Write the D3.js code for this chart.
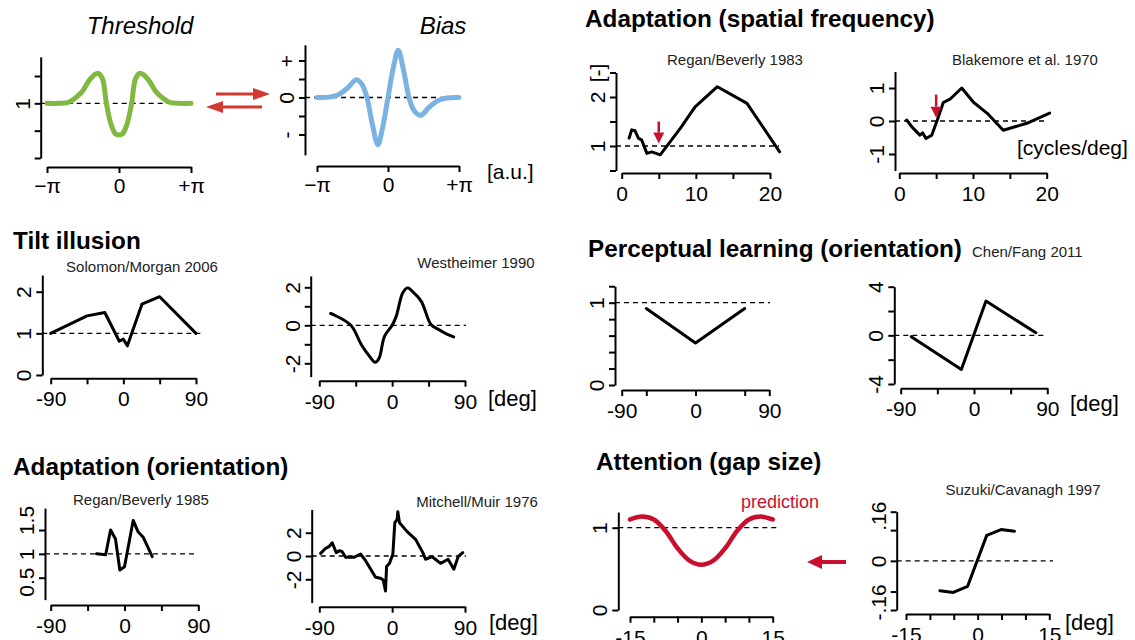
<!DOCTYPE html>
<html>
<head>
<meta charset="utf-8">
<script src="https://cdn.jsdelivr.net/npm/d3@7"></script>
<style>
  body { margin: 0; background: #fff; }
  svg { display: block; }
  text { font-family: "Liberation Sans", Arial, Helvetica, sans-serif; }
</style>
</head>
<body>
<svg id="fig" width="1135" height="640"></svg>
<script>
const FONT = '"Liberation Sans", Arial, Helvetica, sans-serif';
const PI = Math.PI;

// ---- data ----
const thresholdCurve = [[-3.14,1],[-2.6,1],[-2.2,1.02],[-1.9,1.1],[-1.6,1.22],[-1.3,1.42],[-1.05,1.53],[-0.9,1.55],
  [-0.72,1.45],[-0.55,1.0],[-0.35,0.62],[-0.15,0.44],[0,0.42],[0.15,0.44],[0.35,0.62],[0.55,1.0],[0.72,1.45],
  [0.9,1.55],[1.05,1.53],[1.3,1.42],[1.6,1.22],[1.9,1.1],[2.2,1.02],[2.6,1],[3.14,1]];
const biasCurve = [[-3.14,0],[-2.6,0.02],[-2.2,0.15],[-1.8,0.5],[-1.4,0.96],[-1.15,0.7],[-0.93,0],[-0.7,-1.4],
  [-0.45,-2.55],[-0.25,-1.7],[0,0],[0.25,1.7],[0.45,2.55],[0.7,1.4],[0.93,0],[1.15,-0.7],[1.45,-0.96],
  [1.8,-0.55],[2.2,-0.18],[2.6,-0.03],[3.14,0]];
const regan1983 = [[1.0,1.16],[1.35,1.33],[1.8,1.31],[2.25,1.16],[2.7,1.12],[3.4,0.85],[4.05,0.88],[5.2,0.82],
  [7.9,1.36],[9.9,1.8],[12.9,2.21],[16.9,1.87],[21.3,0.88]];
const blakemore1970 = [[1.0,0.03],[1.68,-0.17],[2.36,-0.33],[2.8,-0.43],[3.17,-0.36],[3.62,-0.53],[4.4,-0.43],
  [5.16,0.03],[5.97,0.56],[6.88,0.66],[8.47,1.0],[10.1,0.56],[11.9,0.24],[14.1,-0.28],[17.3,-0.07],[20.4,0.24]];
const solomon2006 = [[-90,1.0],[-45,1.42],[-23,1.5],[-5,0.81],[0,0.86],[5,0.7],[23,1.7],[45,1.88],[90,1.0]];
const westheimer1990 = [[-76,0.62],[-71,0.53],[-51,0],[-38,-1.02],[-28,-1.63],[-21,-1.95],[-16,-1.72],[-9.5,-0.58],
  [0,0],[5,0.47],[13,1.7],[19,1.97],[25,1.79],[36,1.26],[48,0.04],[58,-0.23],[69,-0.49],[76,-0.61]];
const perceptual = [[-60,0.93],[0,0.51],[60,0.93]];
const chenFang2011 = [[-77,-0.11],[-15.5,-2.8],[14.7,2.82],[76,0.21]];
const regan1985 = [[-34,1.0],[-23,0.98],[-17,1.5],[-11,1.31],[-5.7,0.66],[0,0.73],[10.6,1.7],[16.3,1.47],
  [22.8,1.35],[33.8,0.94]];
const mitchell1976 = [[-88.4,0.23],[-82.2,0.66],[-78.1,0.8],[-74,1.14],[-69.1,0.29],[-65,0.46],[-61.7,0.37],
  [-57.6,-0.11],[-47.3,-0.11],[-39,0.17],[-32.8,-0.4],[-20.5,-1.83],[-14.3,-1.91],[-11.1,-2.06],[-8.2,-3.0],
  [-6.9,-0.91],[-3.2,-0.63],[0.9,0.17],[3.3,2.86],[6.2,3.14],[7,3.8],[9.1,2.86],[18.5,2.09],[28.9,1.43],
  [37.9,0.29],[41.2,-0.28],[49.4,-0.06],[59.8,-0.63],[69.1,-0.28],[76.2,-1.14],[81.5,-0.06],[87.3,0.29]];
const prediction = [[-15,1.1],[-12.5,1.135],[-10,1.1],[-7.5,0.96],[-5,0.75],[-2.5,0.6],[0,0.55],[2.5,0.6],
  [5,0.75],[7.5,0.96],[10,1.1],[12.5,1.135],[15,1.1]];
const suzuki1997 = [[-7.9,-0.097],[-5.1,-0.103],[-2.1,-0.083],[1.9,0.083],[4.9,0.102],[7.7,0.096]];

// tick values and labels
const piTicks = [-PI, 0, PI], piLabels = ['\u2212\u03c0', '0', '+\u03c0'];
const sfTicks = [0, 5, 10, 15, 20], sfLabels = ['0', '', '10', '', '20'];
const degTicks = [-90, -45, 0, 45, 90], degLabels = ['-90', '', '0', '', '90'];
const plTicks = [-90, -60, 0, 60, 90], plLabels = ['-90', '', '0', '', '90'];
const mmTicks = [-90, 0, 90], mmLabels = ['-90', '0', '90'];
const gapTicks = [-15, -10, -5, 0, 5, 10, 15], gapLabels = ['-15', '', '', '0', '', '', '15'];

const thrYTicks = [0, 0.5, 1, 1.5], thrYLabels = ['', '', '1', ''];
const biasYTicks = [-2, -1, 0, 1, 2], biasYLabels = ['-', '', '0', '', '+'];
const rb83YTicks = [0.5, 1, 1.5, 2, 2.5], rb83YLabels = ['', '1', '', '2', '[-]'];
const blakYTicks = [-1, 0, 1], blakYLabels = ['-1', '0', '1'];
const solYTicks = [0, 1, 2], solYLabels = ['0', '1', '2'];
const westYTicks = [-2, -1, 0, 1, 2], westYLabels = ['-2', '', '0', '', '2'];
const plYTicks = [0, 0.2, 0.4, 0.6, 0.8, 1, 1.2], plYLabels = ['0', '', '', '', '', '1', ''];
const cfYTicks = [-4, -2, 0, 2, 4], cfYLabels = ['-4', '', '0', '', '4'];
const rb85YTicks = [0.5, 1, 1.5], rb85YLabels = ['0.5', '1', '1.5'];
const mmYTicks = [-2, 0, 2], mmYLabels = ['-2', '0', '2'];
const predYTicks = [0, 1], predYLabels = ['0', '1'];
const scYTicks = [-0.16, -0.1, 0, 0.1, 0.16], scYLabels = ['-.16', '', '0', '', '.16'];

const GREEN = '#7fb942', BLUE = '#7ab3e2', RED = '#c8102e', ARROW_RED = '#d03a30';
const TITLE = 24.3, TICK = 21;

const svg = d3.select('svg#fig');

function styleAxis(sel) {
  sel.attr('font-size', TICK).attr('font-family', FONT);
  sel.select('.domain').attr('stroke-width', 2);
  sel.selectAll('.tick line').attr('stroke-width', 2);
}

function drawPanel(p) {
  const x = d3.scaleLinear().domain(p.xDom).range(p.xPx);
  const y = d3.scaleLinear().domain(p.yDom).range(p.yPx);
  const g = svg.append('g');
  const shift = p.yLabelShift || p.yTicks.map(() => 0);

  const yAxisScale = y.copy().domain(p.yExt).range(p.yExt.map(y));
  g.append('g')
    .attr('transform', 'translate(' + p.axisX + ',0)')
    .call(d3.axisLeft(yAxisScale).tickValues(p.yTicks)
      .tickFormat(d => p.yLabels[p.yTicks.indexOf(d)]).tickSize(6).tickSizeOuter(0))
    .call(styleAxis)
    .selectAll('.tick text')
    .attr('x', null).attr('dy', null)
    .attr('text-anchor', 'middle')
    .attr('transform', d => 'translate(-11,' + shift[p.yTicks.indexOf(d)] + ') rotate(-90)');

  g.append('g')
    .attr('transform', 'translate(0,' + p.axisY + ')')
    .call(d3.axisBottom(x).tickValues(p.xTicks)
      .tickFormat(d => p.xLabels[p.xTicks.indexOf(d)]).tickSize(6).tickSizeOuter(0)
      .tickPadding(p.xPad === undefined ? 7 : p.xPad))
    .call(styleAxis);

  g.append('line')
    .attr('x1', p.axisX).attr('x2', p.dashEnd)
    .attr('y1', y(p.dashY)).attr('y2', y(p.dashY))
    .attr('stroke', '#000').attr('stroke-width', 1.3).attr('stroke-dasharray', '5,4');

  g.append('path')
    .datum(p.data)
    .attr('d', d3.line().x(d => x(d[0])).y(d => y(d[1])).curve(p.curve || d3.curveLinear))
    .attr('fill', 'none')
    .attr('stroke', p.color || '#000')
    .attr('stroke-width', p.lw || 3)
    .attr('stroke-linejoin', 'round')
    .attr('stroke-linecap', 'round');

  return {x: x, y: y};
}

function arrow(x1, y1, x2, y2, color, width, headLen, headHalf) {
  const a = Math.atan2(y2 - y1, x2 - x1);
  const bx = x2 - headLen * Math.cos(a), by = y2 - headLen * Math.sin(a);
  svg.append('line')
    .attr('x1', x1).attr('y1', y1).attr('x2', bx).attr('y2', by)
    .attr('stroke', color).attr('stroke-width', width);
  const px = -Math.sin(a) * headHalf, py = Math.cos(a) * headHalf;
  svg.append('path')
    .attr('d', 'M' + x2 + ',' + y2 + 'L' + (bx + px) + ',' + (by + py) + 'L' + (bx - px) + ',' + (by - py) + 'Z')
    .attr('fill', color);
}

function label(x, y, txt, size, opts) {
  opts = opts || {};
  return svg.append('text')
    .attr('x', x).attr('y', y)
    .attr('font-size', size)
    .attr('font-weight', opts.bold ? 'bold' : null)
    .attr('font-style', opts.italic ? 'italic' : null)
    .attr('text-anchor', opts.anchor || 'start')
    .attr('fill', opts.color || '#000')
    .text(txt);
}

const catmull = d3.curveCatmullRom.alpha(0.5);

// ---- top-left: threshold / bias ----
drawPanel({data: thresholdCurve, xDom: [-PI, PI], xPx: [47, 191], yDom: [0, 1.5], yPx: [158, 76], yExt: [0, 1.85],
  axisX: 40.7, axisY: 167, dashY: 1, dashEnd: 191, xPad: 5, lw: 5, color: GREEN, curve: catmull,
  xTicks: piTicks, xLabels: piLabels, yTicks: thrYTicks, yLabels: thrYLabels});
drawPanel({data: biasCurve, xDom: [-PI, PI], xPx: [317, 459], yDom: [-2, 2], yPx: [134.5, 60.5], yExt: [-3.1, 2.85],
  axisX: 305, axisY: 166, dashY: 0, dashEnd: 460, xPad: 5, lw: 5, color: BLUE, curve: catmull,
  xTicks: piTicks, xLabels: piLabels, yTicks: biasYTicks, yLabels: biasYLabels});
label(140, 34, 'Threshold', 24, {italic: true, anchor: 'middle'});
label(443, 34, 'Bias', 24, {italic: true, anchor: 'middle'});
label(487, 179, '[a.u.]', 21);
arrow(216, 94, 270, 94, ARROW_RED, 3, 17, 6);
arrow(262, 107, 206, 107, ARROW_RED, 3, 17, 6);

// ---- adaptation (spatial frequency) ----
label(585, 27, 'Adaptation (spatial frequency)', TITLE, {bold: true});
const rb83 = drawPanel({data: regan1983, xDom: [0, 20], xPx: [621.7, 770], yDom: [1, 2], yPx: [146, 97], yExt: [0.5, 2.5],
  axisX: 616, axisY: 173, dashY: 1, dashEnd: 779,
  xTicks: sfTicks, xLabels: sfLabels, yTicks: rb83YTicks, yLabels: rb83YLabels});
label(735, 65, 'Regan/Beverly 1983', 15, {anchor: 'middle', color: '#222'});
arrow(rb83.x(5), rb83.y(1.5), rb83.x(5), rb83.y(1.05), RED, 2.5, 11, 5.5);

const blak = drawPanel({data: blakemore1970, xDom: [0, 20], xPx: [899.3, 1046.7], yDom: [-1, 1], yPx: [154, 88], yExt: [-1.5, 1.5],
  axisX: 895, axisY: 173, dashY: 0, dashEnd: 1048,
  xTicks: sfTicks, xLabels: sfLabels, yTicks: blakYTicks, yLabels: blakYLabels});
label(1025, 65, 'Blakemore et al. 1970', 15, {anchor: 'middle', color: '#222'});
label(1017, 155, '[cycles/deg]', 21);
arrow(blak.x(5), blak.y(0.8), blak.x(5), blak.y(0.1), RED, 2.5, 11, 5.5);

// ---- tilt illusion ----
label(13, 249, 'Tilt illusion', TITLE, {bold: true});
drawPanel({data: solomon2006, xDom: [-90, 90], xPx: [50.7, 196], yDom: [0, 2], yPx: [375, 291.7], yExt: [0, 2.4],
  axisX: 42.3, axisY: 378.3, dashY: 1, dashEnd: 204,
  xTicks: degTicks, xLabels: degLabels, yTicks: solYTicks, yLabels: solYLabels});
label(142, 272, 'Solomon/Morgan 2006', 15, {anchor: 'middle', color: '#222'});
drawPanel({data: westheimer1990, xDom: [-90, 90], xPx: [319.3, 465], yDom: [-2, 2], yPx: [363.3, 287.3], yExt: [-2.7, 2.6],
  axisX: 310.7, axisY: 380.7, dashY: 0, dashEnd: 466, curve: catmull,
  xTicks: degTicks, xLabels: degLabels, yTicks: westYTicks, yLabels: westYLabels});
label(476, 268, 'Westheimer 1990', 15, {anchor: 'middle', color: '#222'});
label(488, 406, '[deg]', 22);

// ---- perceptual learning ----
label(588, 257, 'Perceptual learning (orientation)', TITLE, {bold: true});
label(972, 257, 'Chen/Fang 2011', 15, {color: '#222'});
drawPanel({data: perceptual, xDom: [-90, 90], xPx: [621.7, 769.3], yDom: [0, 1], yPx: [385, 302.7], yExt: [0, 1.2],
  axisX: 615, axisY: 390, dashY: 1, dashEnd: 770,
  xTicks: plTicks, xLabels: plLabels, yTicks: plYTicks, yLabels: plYLabels});
drawPanel({data: chenFang2011, xDom: [-90, 90], xPx: [900.7, 1047.3], yDom: [-4, 4], yPx: [384, 286.7], yExt: [-4, 4],
  axisX: 894.3, axisY: 388.3, dashY: 0, dashEnd: 1047,
  xTicks: degTicks, xLabels: degLabels, yTicks: cfYTicks, yLabels: cfYLabels});
label(1070, 411, '[deg]', 22);

// ---- adaptation (orientation) ----
label(13, 475, 'Adaptation (orientation)', TITLE, {bold: true});
drawPanel({data: regan1985, xDom: [-90, 90], xPx: [50.7, 198.3], yDom: [0.5, 1.5], yPx: [577.7, 530], yExt: [0.04, 1.96],
  axisX: 45, axisY: 605, dashY: 1, dashEnd: 197, yLabelShift: [4, 0, -10],
  xTicks: degTicks, xLabels: degLabels, yTicks: rb85YTicks, yLabels: rb85YLabels});
label(141, 505, 'Regan/Beverly 1985', 15, {anchor: 'middle', color: '#222'});
drawPanel({data: mitchell1976, xDom: [-90, 90], xPx: [319.3, 465], yDom: [-2, 2], yPx: [579.3, 532.7], yExt: [-4, 4],
  axisX: 311.7, axisY: 606.7, dashY: 0, dashEnd: 466,
  xTicks: mmTicks, xLabels: mmLabels, yTicks: mmYTicks, yLabels: mmYLabels});
label(477, 507, 'Mitchell/Muir 1976', 15, {anchor: 'middle', color: '#222'});
label(489, 630, '[deg]', 22);

// ---- attention (gap size) ----
label(596, 470, 'Attention (gap size)', TITLE, {bold: true});
drawPanel({data: prediction, xDom: [-15, 15], xPx: [630, 772.7], yDom: [0, 1], yPx: [610, 527.7], yExt: [0, 1.19],
  axisX: 618.3, axisY: 616.7, dashY: 1, dashEnd: 777, lw: 4.5, color: RED, curve: catmull,
  xTicks: gapTicks, xLabels: gapLabels, yTicks: predYTicks, yLabels: predYLabels});
label(741, 508, 'prediction', 18, {color: RED});
arrow(846, 562, 807, 562, RED, 4, 15, 7);
drawPanel({data: suzuki1997, xDom: [-15, 15], xPx: [906, 1049.3], yDom: [-0.16, 0.16], yPx: [610, 511.7], yExt: [-0.16, 0.16],
  axisX: 896.7, axisY: 614, dashY: 0, dashEnd: 1053, yLabelShift: [-8, 0, 0, 0, 4],
  xTicks: gapTicks, xLabels: gapLabels, yTicks: scYTicks, yLabels: scYLabels});
label(1023, 495, 'Suzuki/Cavanagh 1997', 15, {anchor: 'middle', color: '#222'});
label(1065, 630, '[deg]', 22);
</script>
</body>
</html>
